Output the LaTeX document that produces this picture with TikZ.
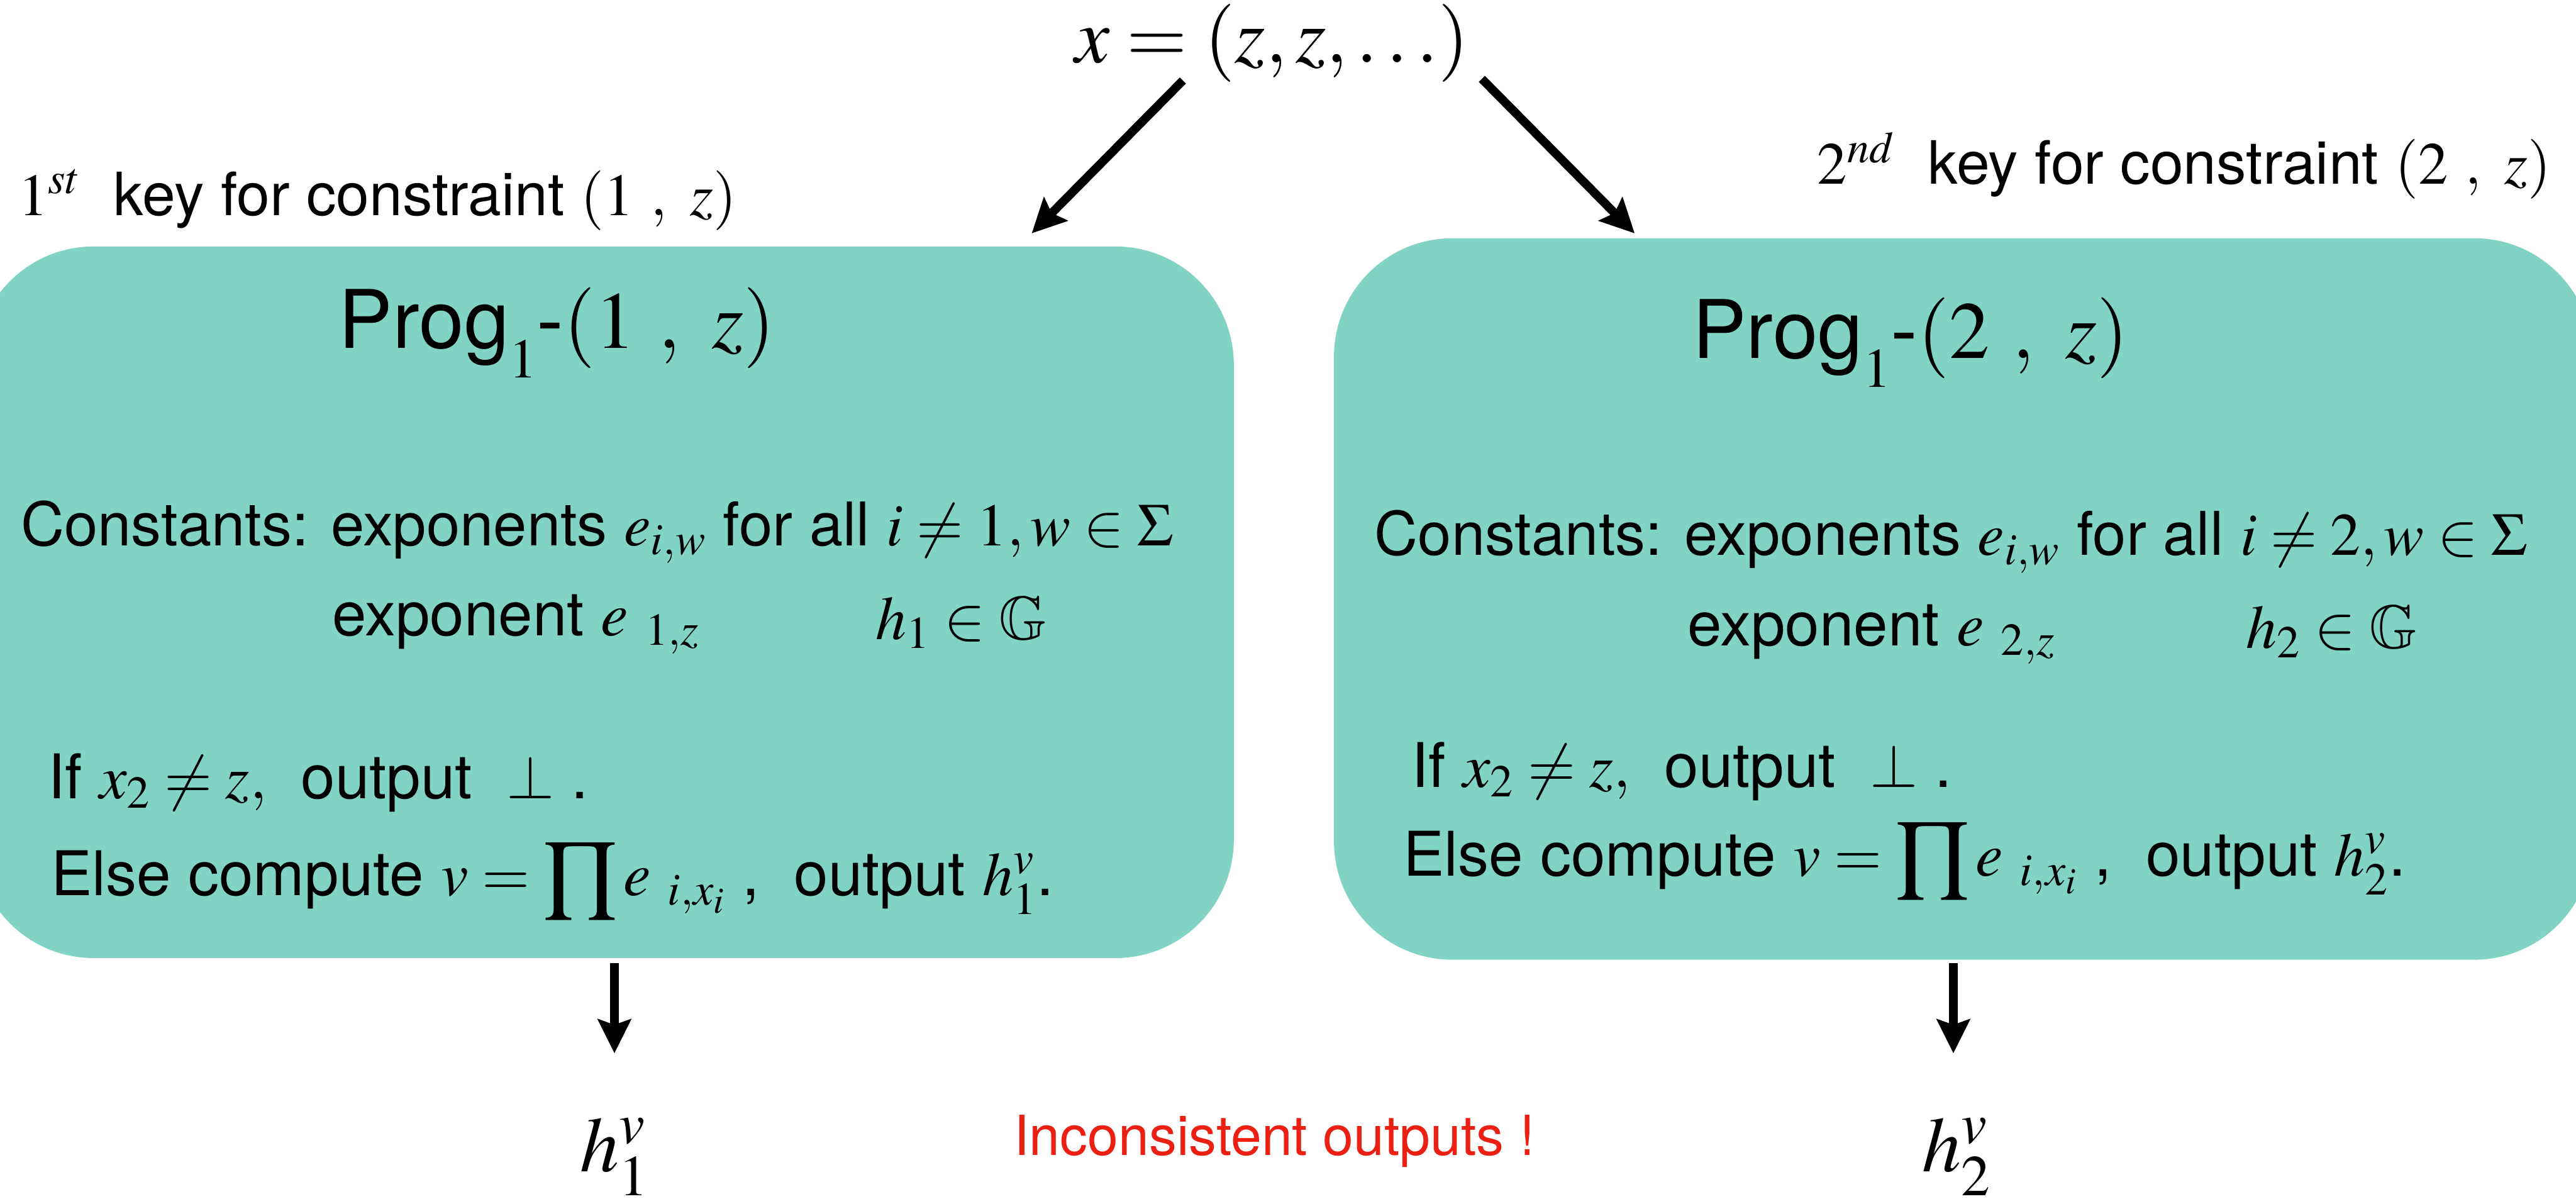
\documentclass[tikz,border=0pt]{standalone}
\usepackage{mathptmx}
\usepackage{amssymb}
\DeclareFontFamily{U}{msb}{}
\DeclareFontShape{U}{msb}{m}{n}{<-> msbm10}{}
\usepackage[no-math]{fontspec}
\setmainfont{TeX Gyre Heros}
\usetikzlibrary{arrows.meta}
\definecolor{boxteal}{RGB}{129,211,196}
\definecolor{warnred}{RGB}{236,32,18}
\newcommand{\progsub}{\raisebox{-0.36em}{\fontsize{29}{30}\selectfont$1$}}
\begin{document}
\begin{tikzpicture}[x=0.03cm,y=-0.03cm,
  boxst/.style={fill=boxteal, draw=none, rounded corners=2.16cm, inner sep=0pt, outer sep=0pt, minimum width=22.98cm},
  txt/.style={anchor=base west, inner sep=0pt, font=\fontsize{32}{38}\selectfont},
  cst/.style={anchor=base west, inner sep=0pt, font=\fontsize{31.3}{38}\selectfont},
  ttl/.style={anchor=base west, inner sep=0pt, font=\fontsize{42}{50}\selectfont},
  keylbl/.style={anchor=base west, inner sep=0pt, font=\fontsize{31}{37}\selectfont},
  outlbl/.style={anchor=base west, inner sep=0pt, font=\fontsize{40.5}{49}\selectfont},
  warn/.style={anchor=base west, inner sep=0pt, text=warnred, font=\fontsize{28.7}{34}\selectfont},
  arr/.style={-{Stealth[length=0.62cm,width=0.6cm,inset=0.1cm]}, line width=4.5pt}]
\useasboundingbox (0,0) rectangle (1568,729.6);

% boxes
\node[boxst, minimum height=12.99cm] (box1) at (368,366.5) {};
\node[boxst, minimum height=13.17cm] (box2) at (1195,364.5) {};

% top input
\node[outlbl] (xin) at (654,38) {$x = (z, z, \ldots)$};

% key labels
\node[keylbl] (k1) at (11,131) {$1^{st}$\ \ key for constraint $(1\ ,\ z)$};
\node[keylbl] (k2) at (1106,112) {$2^{nd}$\ \ key for constraint $(2\ ,\ z)$};

% left box contents
\node[ttl] (t1) at (206,212) {Prog\progsub-$(1\ ,\ z)$};
\node[cst] (c1) at (12.5,332) {Constants: exponents $e_{i,w}$ for all $i \neq 1,w \in \Sigma$};
\node[txt] (e1) at (202,387) {exponent $e_{\ 1,z}$};
\node[txt] (g1) at (533,389) {$h_1 \in \mathbb{G}$};
\node[txt] (if1) at (29,486) {If $x_2 \neq z,$\ \ output\ \ $\perp$\ .};
\node[txt] (el1) at (31,545) {Else compute $v = \displaystyle\prod e_{\ i,x_i}$\ ,\ \ output $h_1^v$.};

% right box contents
\node[ttl] (t2) at (1030,218) {Prog\progsub-$(2\ ,\ z)$};
\node[cst] (c2) at (836.5,338) {Constants: exponents $e_{i,w}$ for all $i \neq 2,w \in \Sigma$};
\node[txt] (e2) at (1027,393) {exponent $e_{\ 2,z}$};
\node[txt] (g2) at (1367,394.5) {$h_2 \in \mathbb{G}$};
\node[txt] (if2) at (859,479) {If $x_2 \neq z,$\ \ output\ \ $\perp$\ .};
\node[txt] (el2) at (854,533) {Else compute $v = \displaystyle\prod e_{\ i,x_i}$\ ,\ \ output $h_2^v$.};

% outputs
\node[outlbl] (o1) at (353,713) {$h_1^v$};
\node[outlbl] (o2) at (1170,713) {$h_2^v$};
\node[warn] (inc) at (617,703) {Inconsistent outputs !};

% connectors
\coordinate (a1s) at (720,49);
\coordinate (a1e) at (628,142);
\coordinate (a2s) at (902,48);
\coordinate (a2e) at (995,142);
\coordinate (d1s) at (374,586);
\coordinate (d1e) at (374,641);
\coordinate (d2s) at (1189,586);
\coordinate (d2e) at (1189,641);
\draw[arr] (a1s) -- (a1e);
\draw[arr] (a2s) -- (a2e);
\draw[arr] (d1s) -- (d1e);
\draw[arr] (d2s) -- (d2e);
\end{tikzpicture}
\end{document}
